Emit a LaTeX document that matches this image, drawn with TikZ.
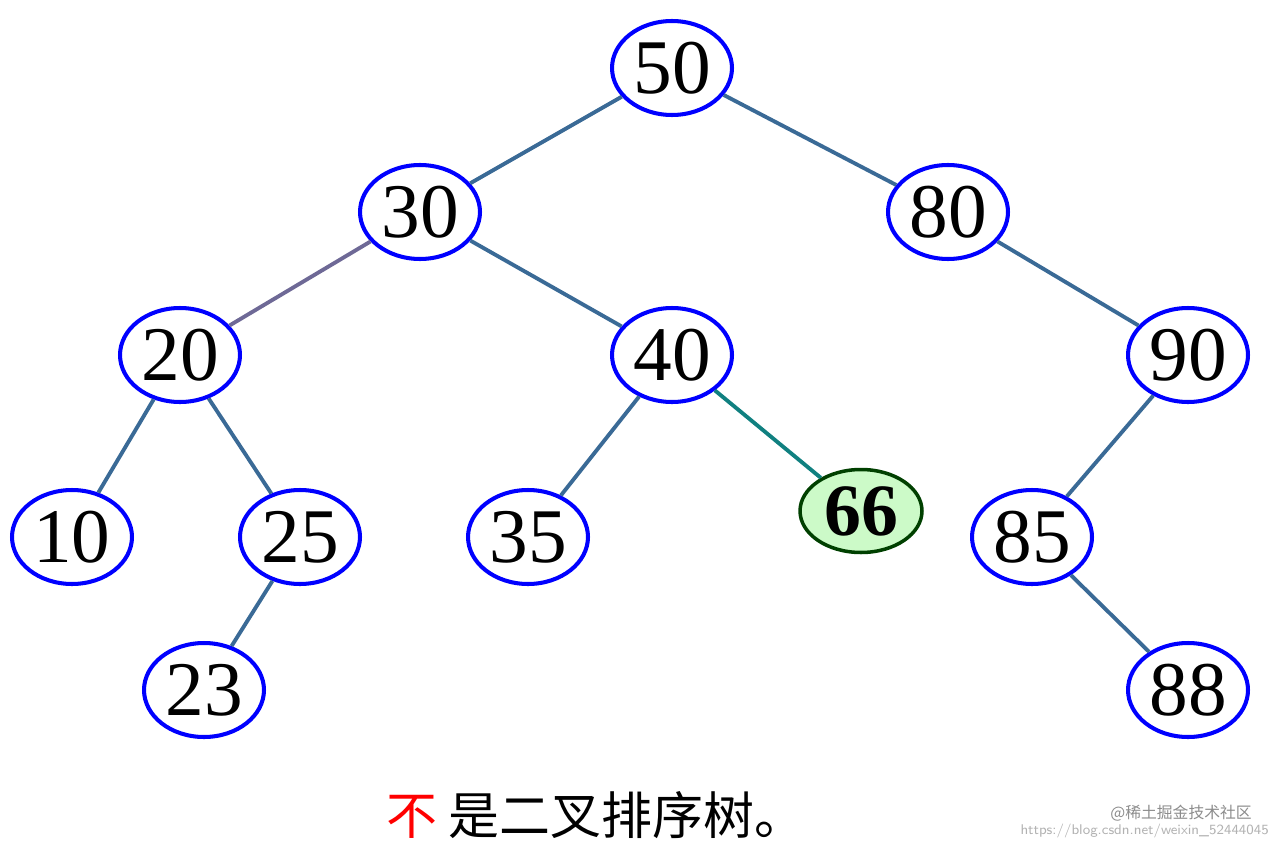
\documentclass[tikz,border=0pt]{standalone}
\usepackage{fontspec}
\setmainfont{Liberation Serif}
\newfontfamily\cjk{Noto Sans CJK SC}
\usetikzlibrary{shapes.geometric}
\definecolor{edgeblue}{RGB}{58,106,150}
\definecolor{edgepurple}{RGB}{110,105,150}
\definecolor{edgeteal}{RGB}{16,128,128}
\definecolor{leafgreen}{RGB}{204,250,200}
\begin{document}
\begin{tikzpicture}[x=0.02cm,y=-0.02cm,
  tn/.style={ellipse,draw=blue,line width=2.3pt,minimum width=2.4cm,minimum height=1.88cm,inner sep=0pt,font=\fontsize{44}{44}\selectfont},
  gn/.style={ellipse,draw=black!75!green,fill=leafgreen,line width=2pt,minimum width=2.44cm,minimum height=1.66cm,inner sep=0pt,font=\fontsize{42}{42}\selectfont\bfseries},
  ed/.style={draw=edgeblue,line width=2.2pt}]
\useasboundingbox (0,0) rectangle (1281,848);
\node[tn] (n50) at (672,68) {50};
\node[tn] (n30) at (420,212) {30};
\node[tn] (n80) at (948,212) {80};
\node[tn] (n20) at (180,355) {20};
\node[tn] (n40) at (672,355) {40};
\node[tn] (n90) at (1188,355) {90};
\node[tn] (n10) at (72,537) {10};
\node[tn] (n25) at (300,537) {25};
\node[tn] (n35) at (528,537) {35};
\node[gn] (n66) at (861,511) {66};
\node[tn] (n85) at (1032,537) {85};
\node[tn] (n23) at (204,690) {23};
\node[tn] (n88) at (1188,690) {88};
\draw[ed] (n50) -- (n30);
\draw[ed] (n50) -- (n80);
\draw[ed,draw=edgepurple] (n30) -- (n20);
\draw[ed] (n30) -- (n40);
\draw[ed] (n80) -- (n90);
\draw[ed] (n20) -- (n10);
\draw[ed] (n20) -- (n25);
\draw[ed] (n40) -- (n35);
\draw[ed,draw=edgeteal] (n40) -- (n66);
\draw[ed] (n90) -- (n85);
\draw[ed] (n25) -- (n23);
\draw[ed] (n85) -- (n88);
\node[font=\cjk\fontsize{29}{29}\selectfont] (cap) at (596,815) {\textcolor{red}{不} 是二叉排序树。};
\node[font=\cjk\fontsize{9}{9}\selectfont,text=black!45,anchor=east] (wm1) at (1258,813) {@稀土掘金技术社区};
\node[font=\sffamily\fontsize{8}{8}\selectfont,text=black!30,anchor=east] (wm2) at (1275,831) {https://blog.csdn.net/weixin\_52444045};
\end{tikzpicture}
\end{document}
